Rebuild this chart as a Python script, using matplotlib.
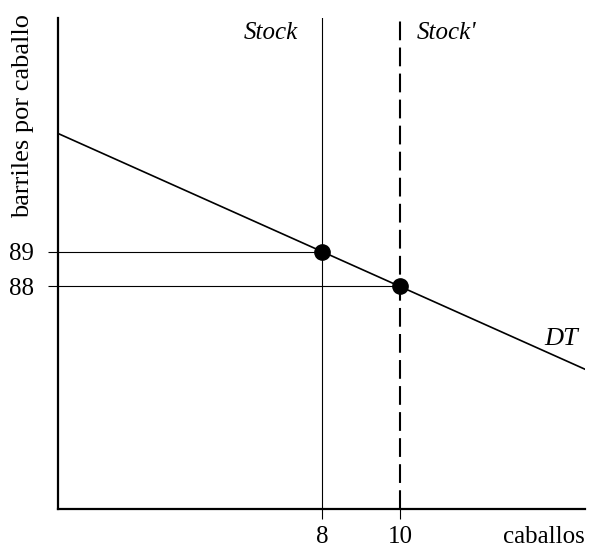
import numpy as np
import matplotlib.pyplot as plt

plt.rcParams['font.family'] = ['Liberation Serif', 'DejaVu Serif']

# demand curve DT (schematic): barrels per horse vs horses
dt_x = [1.24, 14.74]
dt_y = [93 - 0.5 * 1.24, 93 - 0.5 * 14.74]

stock_x = [8, 10]
price_y = [89, 88]
x_ticks = [8, 10]
x_ticklabels = ['8', '10']
y_ticks = [88, 89]
y_ticklabels = ['88', '89']

xmin, xmax = 1.24, 14.74
ymin, ymax = 81.63, 95.68

fig = plt.figure(figsize=(5.91, 5.50), dpi=100)
ax = fig.add_axes([0.0981, 0.0745, 0.8919, 0.8925])

ax.plot(dt_x, dt_y, color='black', lw=1.2)

# stock lines
ax.plot([stock_x[0], stock_x[0]], [ymin, ymax], color='black', lw=0.8)
ax.plot([stock_x[1], stock_x[1]], [ymin, ymax], color='black', lw=1.5,
        dashes=(9, 3.5))

# price guides
for sx, py in zip(stock_x, price_y):
    ax.plot([xmin, sx], [py, py], color='black', lw=0.8)

ax.plot(stock_x, price_y, 'o', color='black', ms=11)

ax.text(6.68, 95.25, 'Stock', style='italic', fontsize=18, ha='center', va='center')
ax.text(10.42, 95.25, "Stock'", style='italic', fontsize=18, ha='left', va='center')
ax.text(14.12, 86.5, 'DT', style='italic', fontsize=19, ha='center', va='center')
ax.text(14.74, -0.057, 'caballos', fontsize=18, ha='right', va='center', clip_on=False,
        transform=ax.get_xaxis_transform())
ax.text(-0.066, 0.80, 'barriles por caballo', fontsize=19, rotation=90,
        ha='center', va='center', transform=ax.transAxes)

ax.set_xlim(xmin, xmax)
ax.set_ylim(ymin, ymax)
ax.set_xticks(x_ticks)
ax.set_xticklabels(x_ticklabels)
ax.set_yticks(y_ticks)
ax.set_yticklabels(y_ticklabels)
ax.tick_params(axis='both', labelsize=18, length=7, width=0.8)
ax.tick_params(axis='x', pad=5)
ax.tick_params(axis='y', pad=10)

ax.spines['right'].set_visible(False)
ax.spines['top'].set_visible(False)
ax.spines['left'].set_linewidth(1.6)
ax.spines['bottom'].set_linewidth(1.6)

fig.savefig('out.png', dpi=100)
